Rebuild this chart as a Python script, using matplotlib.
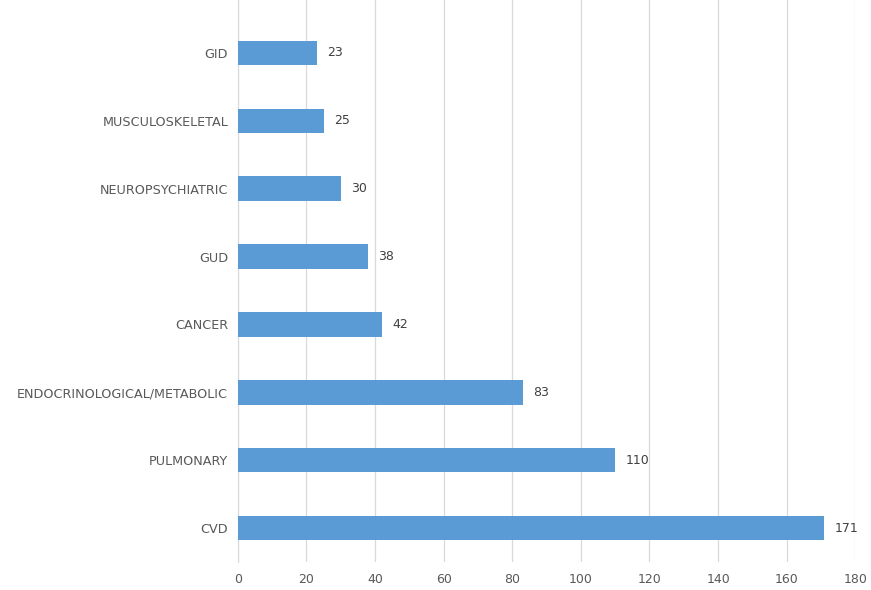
import matplotlib
matplotlib.use("Agg")
import matplotlib.pyplot as plt

categories = ["CVD", "PULMONARY", "ENDOCRINOLOGICAL/METABOLIC", "CANCER",
              "GUD", "NEUROPSYCHIATRIC", "MUSCULOSKELETAL", "GID"]
values = [171, 110, 83, 42, 38, 30, 25, 23]
xticks = [0, 20, 40, 60, 80, 100, 120, 140, 160, 180]

fig = plt.figure(figsize=(8.71, 5.9), dpi=100)
ax = fig.add_axes([0.273, 0.0475, 0.709, 0.9525])

ypos = range(len(categories))
ax.barh(ypos, values, height=0.36, color="#5B9BD5", zorder=3)
for y, v in zip(ypos, values):
    ax.text(v + 3, y, str(v), va="center", ha="left", fontsize=9, color="#404040")

ax.set_yticks(list(ypos))
ax.set_yticklabels(categories, fontsize=9.2, color="#595959")
ax.set_xticks(xticks)
ax.set_xticklabels([str(t) for t in xticks], fontsize=9, color="#595959")
ax.set_xlim(0, 180)
ax.set_ylim(-0.5, 7.78)

ax.grid(axis="x", color="#d9d9d9", linewidth=0.9, zorder=0)
for s in ["top", "right", "bottom"]:
    ax.spines[s].set_visible(False)
ax.spines["left"].set_color("#d9d9d9")
ax.tick_params(axis="x", length=0, pad=8)
ax.tick_params(axis="y", length=0, pad=7)

fig.savefig("out.png", dpi=100)
